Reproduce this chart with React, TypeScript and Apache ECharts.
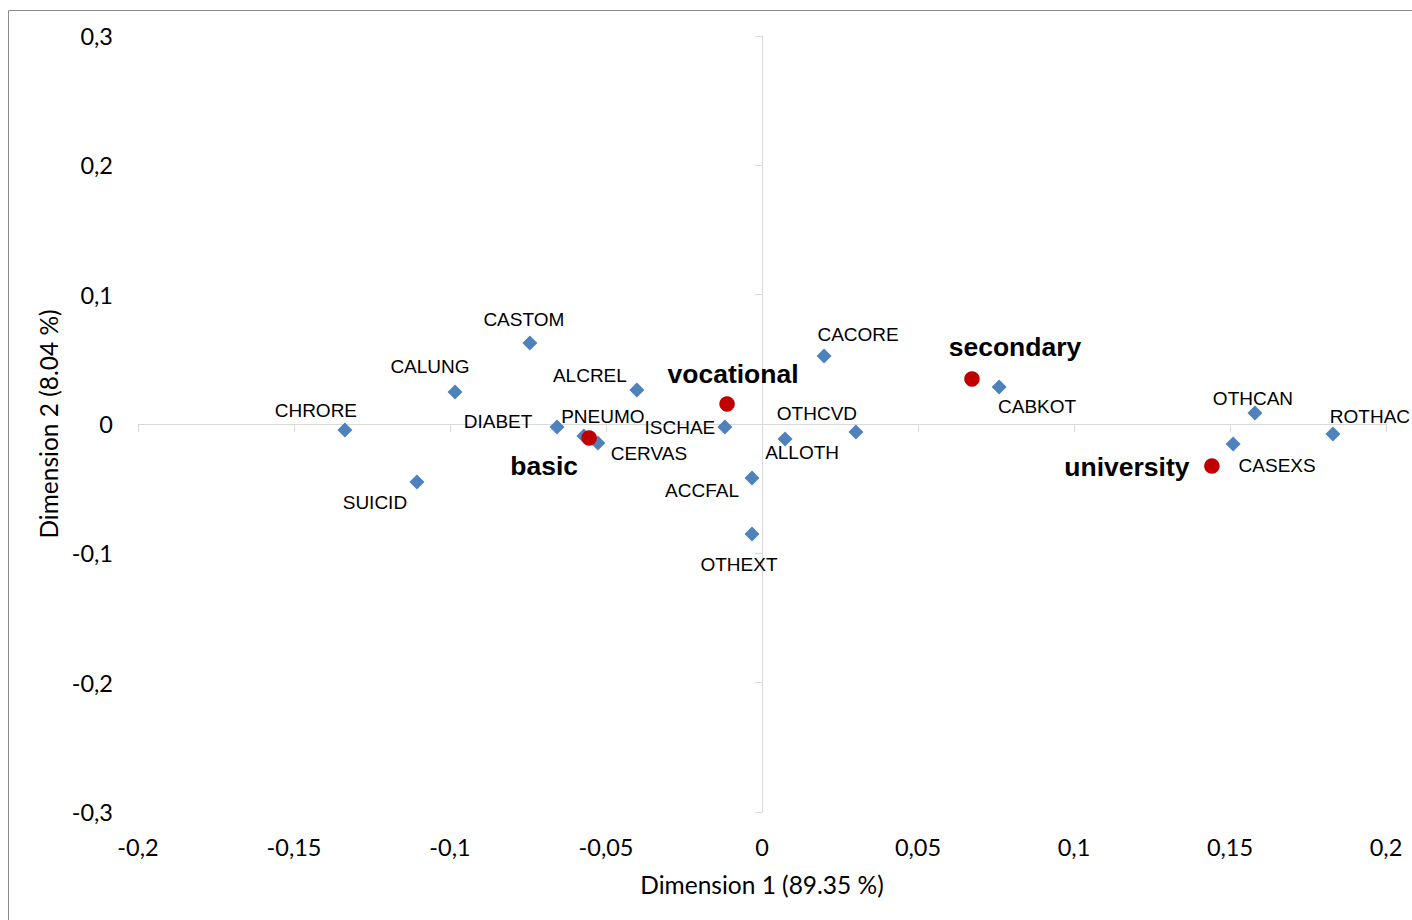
import React, { useEffect, useRef } from "react";
import * as echarts from "echarts";

const causeNames = ["CHRORE", "SUICID", "CALUNG", "CASTOM", "DIABET", "PNEUMO", "CERVAS", "ALCREL", "ISCHAE", "ACCFAL", "OTHEXT", "ALLOTH", "OTHCVD", "CACORE", "CABKOT", "OTHCAN", "ROTHAC", "CASEXS"];
const causeDim1 = [-0.1337, -0.1106, -0.0984, -0.0744, -0.0657, -0.0571, -0.0526, -0.0401, -0.0119, -0.0032, -0.0032, 0.0074, 0.0301, 0.0199, 0.076, 0.158, 0.183, 0.151];
const causeDim2 = [-0.0046, -0.0449, 0.0247, 0.0626, -0.0023, -0.0093, -0.0147, 0.0263, -0.0023, -0.0418, -0.0851, -0.0116, -0.0062, 0.0526, 0.0286, 0.0085, -0.0077, -0.0155];

const eduNames = ["basic", "vocational", "secondary", "university"];
const eduDim1 = [-0.0554, -0.0112, 0.0673, 0.1442];
const eduDim2 = [-0.0108, 0.0155, 0.0348, -0.0325];

const xTicks = [-0.2, -0.15, -0.1, -0.05, 0, 0.05, 0.1, 0.15, 0.2];
const yTicks = [-0.3, -0.2, -0.1, 0, 0.1, 0.2, 0.3];

// label placement (pixel offsets from each marker)
const causeLabelOffsets: Record<string, [number, number]> = {
  CHRORE: [-29, -19], SUICID: [-42, 20], CALUNG: [-25, -26], CASTOM: [-6, -24],
  DIABET: [-59, -5], PNEUMO: [19, -20], CERVAS: [51, 10], ALCREL: [-47, -14],
  ISCHAE: [-45, 1], ACCFAL: [-50, 12], OTHEXT: [-13, 30], ALLOTH: [17, 13],
  OTHCVD: [-39, -19], CACORE: [34, -21], CABKOT: [38, 19], OTHCAN: [-2, -15],
  ROTHAC: [37, -17], CASEXS: [44, 21],
};
const eduLabelOffsets: Record<string, [number, number]> = {
  basic: [-45, 28], vocational: [6, -30], secondary: [43, -32], university: [-85, 1],
};

const fmt = (v: number) => String(Number(v.toFixed(3))).replace(".", ",");
const tickFont = "Lato, 'Open Sans', sans-serif";
const labelFont = "'Liberation Sans', Arial, sans-serif";

export default function App() {
  const ref = useRef<HTMLDivElement>(null);
  useEffect(() => {
    if (!ref.current) return;
    const chart = echarts.init(ref.current, undefined, { renderer: "svg" });
    const axisLineStyle = { color: "#d9d9d9", width: 1 };
    const xMin = xTicks[0], xMax = xTicks[xTicks.length - 1];
    const yMin = yTicks[0], yMax = yTicks[yTicks.length - 1];
    const xInt = xTicks[1] - xTicks[0];
    const yInt = Number((yTicks[1] - yTicks[0]).toFixed(3));
    chart.setOption({
      animation: false,
      backgroundColor: "#ffffff",
      graphic: [
        {
          type: "rect",
          shape: { x: 8.5, y: 10.5, width: 1420, height: 940 },
          style: { fill: "none", stroke: "#8c8c8c", lineWidth: 1 },
          silent: true,
        },
      ],
      grid: { left: 138, right: 26, top: 36, bottom: 108 },
      xAxis: [
        {
          type: "value", min: xMin, max: xMax, interval: xInt,
          position: "bottom",
          axisLine: { show: false, onZero: false },
          axisTick: { show: false },
          splitLine: { show: false },
          axisLabel: { formatter: fmt, fontFamily: tickFont, fontSize: 23.5, color: "#000", margin: 23 },
          name: "Dimension 1 (89.35 %)",
          nameLocation: "middle",
          nameGap: 60,
          nameTextStyle: { fontFamily: tickFont, fontSize: 24.5, color: "#000" },
        },
        {
          type: "value", min: xMin, max: xMax, interval: xInt,
          position: "bottom",
          axisLine: { show: true, onZero: true, lineStyle: axisLineStyle },
          axisTick: { show: true, length: 8, lineStyle: axisLineStyle },
          splitLine: { show: false },
          axisLabel: { show: false },
        },
      ],
      yAxis: [
        {
          type: "value", min: yMin, max: yMax, interval: yInt,
          position: "left",
          axisLine: { show: false, onZero: false },
          axisTick: { show: false },
          splitLine: { show: false },
          axisLabel: { formatter: fmt, fontFamily: tickFont, fontSize: 23.5, color: "#000", margin: 25 },
          name: "Dimension 2 (8.04 %)",
          nameLocation: "middle",
          nameGap: 76,
          nameTextStyle: { fontFamily: tickFont, fontSize: 24.5, color: "#000" },
        },
        {
          type: "value", min: yMin, max: yMax, interval: yInt,
          position: "left",
          axisLine: { show: true, onZero: true, lineStyle: axisLineStyle },
          axisTick: { show: true, length: 7, lineStyle: axisLineStyle },
          splitLine: { show: false },
          axisLabel: { show: false },
        },
      ],
      series: [
        {
          type: "scatter",
          xAxisIndex: 0, yAxisIndex: 0,
          symbol: "diamond",
          symbolSize: 15,
          itemStyle: { color: "#4f81bd", opacity: 1 },
          data: causeNames.map((n, i) => ({
            name: n,
            value: [causeDim1[i], causeDim2[i]],
            label: { offset: causeLabelOffsets[n] },
          })),
          label: {
            show: true, position: "inside", formatter: "{b}",
            align: "center", verticalAlign: "middle",
            fontFamily: labelFont, fontSize: 19, color: "#000",
          },
          z: 2,
        },
        {
          type: "scatter",
          xAxisIndex: 0, yAxisIndex: 0,
          symbol: "circle",
          symbolSize: 15.5,
          itemStyle: { color: "#c00000", opacity: 1 },
          data: eduNames.map((n, i) => ({
            name: n,
            value: [eduDim1[i], eduDim2[i]],
            label: { offset: eduLabelOffsets[n] },
          })),
          label: {
            show: true, position: "inside", formatter: "{b}",
            align: "center", verticalAlign: "middle",
            fontFamily: labelFont, fontSize: 26.5, fontWeight: "bold", color: "#000",
          },
          z: 3,
        },
      ],
    });
    return () => chart.dispose();
  }, []);
  return (
    <div
      ref={ref}
      style={{ position: "fixed", left: 0, top: 0, width: 1412, height: 920, background: "#fff" }}
    />
  );
}
